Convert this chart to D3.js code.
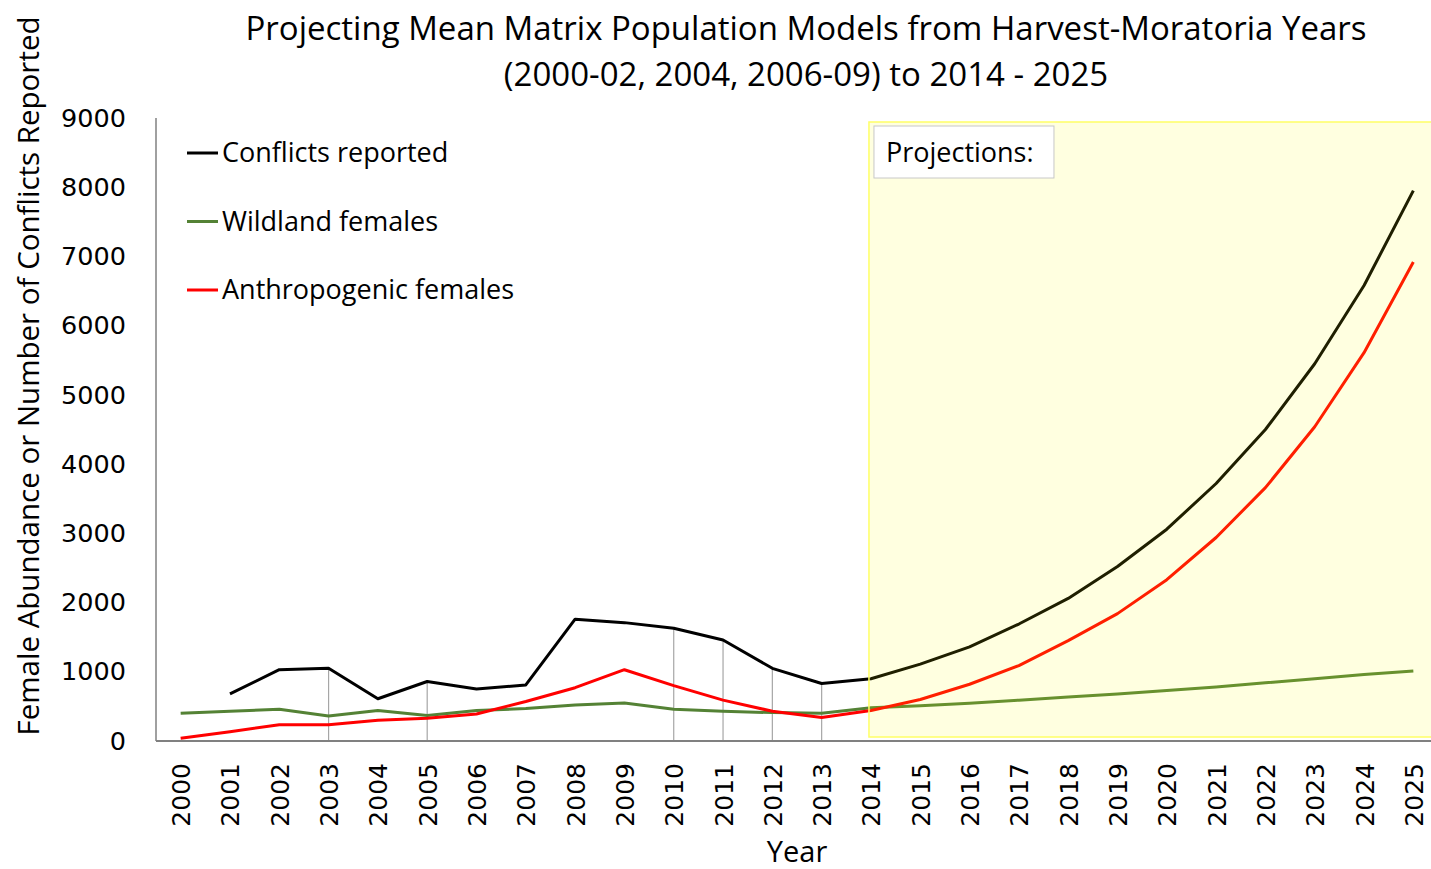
<!DOCTYPE html>
<html><head><meta charset="utf-8">
<script src="https://cdn.jsdelivr.net/npm/d3@7"></script>
<style>body{margin:0;background:#fff}svg{display:block}</style>
</head><body>
<svg id="c" width="1431" height="869"></svg>
<script>
const years = d3.range(2000, 2026).map(String);
const conflicts = [null,680,1030,1050,610,860,750,810,1760,1710,1630,1460,1050,830,900,1110,1360,1690,2060,2520,3060,3720,4500,5450,6580,7950];
const wildland = [400,430,460,360,440,370,440,470,520,550,460,430,410,400,480,510,545,590,635,680,730,780,840,900,960,1010];
const anthropogenic = [40,135,235,235,300,330,390,570,770,1030,800,590,430,340,440,600,820,1090,1450,1840,2330,2940,3660,4540,5610,6920];
const yTicks = [0,1000,2000,3000,4000,5000,6000,7000,8000,9000];
const dropYears = ["2003","2005","2010","2011","2012","2013"];
const projectionStart = "2014";
const series = [
  {name:"Conflicts reported", values:conflicts, color:"#000000"},
  {name:"Wildland females", values:wildland, color:"#548235"},
  {name:"Anthropogenic females", values:anthropogenic, color:"#ff0000"}
];
const titleLines = ["Projecting Mean Matrix Population Models from Harvest-Moratoria Years","(2000-02, 2004, 2006-09) to 2014 - 2025"];

const svg = d3.select("#c");
const L = 156, R = 1438, T = 118, B = 741;
const x = d3.scalePoint().domain(years).range([L, R]).padding(0.5);
const y = d3.scaleLinear().domain([0, 9000]).range([B, T]);
const titleFont = "'Open Sans', sans-serif";

// title
svg.selectAll("text.title").data(titleLines).join("text")
  .attr("x", 806).attr("y", (d,i)=>40+i*46)
  .attr("text-anchor","middle").attr("font-family",titleFont).attr("font-size",33)
  .attr("fill","#000").text(d=>d);

// drop lines
svg.selectAll("line.drop").data(dropYears).join("line")
  .attr("x1", d=>x(d)).attr("x2", d=>x(d))
  .attr("y1", d=>y(conflicts[years.indexOf(d)])).attr("y2", B)
  .attr("stroke","#a6a6a6").attr("stroke-width",1.2);

// lines
const line = d3.line().defined(d=>d.v!=null).x(d=>x(d.yr)).y(d=>y(d.v));
series.forEach(s=>{
  svg.append("path")
    .datum(years.map((yr,i)=>({yr, v:s.values[i]})))
    .attr("d", line).attr("fill","none").attr("stroke", s.color)
    .attr("stroke-width",3).attr("stroke-linejoin","round");
});

// projection region
const px = x(projectionStart) - 2;
svg.append("rect").attr("x", px).attr("y", 122).attr("width", 1431-px+5).attr("height", 737-122)
  .attr("fill","#ffff00").attr("fill-opacity",0.12).attr("stroke","#ffff66").attr("stroke-width",1.5);
svg.append("rect").attr("x", px+5).attr("y", 126).attr("width", 180).attr("height", 52)
  .attr("fill","#fff").attr("stroke","#c8c8c8").attr("stroke-width",1);
svg.append("text").attr("x", px+17).attr("y", 162).attr("font-family",titleFont)
  .attr("font-size",27).attr("fill","#000").text("Projections:");

// axes
const yAxis = d3.axisLeft(y).tickValues(yTicks).tickSize(0).tickPadding(30).tickFormat(d3.format("d"));
const gy = svg.append("g").attr("transform",`translate(${L},0)`).call(yAxis);
gy.select(".domain").attr("stroke","#808080").attr("stroke-width",1.5).attr("d",`M0,${T}V${B}`);
gy.selectAll("text").attr("font-family","'DejaVu Sans', sans-serif").attr("font-size",25.5).attr("fill","#000");

const xAxis = d3.axisBottom(x).tickSize(0).tickPadding(0);
const gx = svg.append("g").attr("transform",`translate(0,${B})`).call(xAxis);
gx.select(".domain").attr("stroke","#808080").attr("stroke-width",2).attr("d",`M${L},0H1431`);
gx.selectAll("text").attr("font-family","'DejaVu Sans', sans-serif").attr("font-size",25).attr("fill","#000")
  .attr("text-anchor","end").attr("dy",null)
  .attr("transform","translate(9,22) rotate(-90)").attr("x",0).attr("y",0);

// axis titles
svg.append("text").attr("x",797).attr("y",862).attr("text-anchor","middle")
  .attr("font-family",titleFont).attr("font-size",29).attr("fill","#000").text("Year");
svg.append("text").attr("transform","translate(39,376) rotate(-90)").attr("text-anchor","middle")
  .attr("font-family",titleFont).attr("font-size",29.5).attr("fill","#000")
  .text("Female Abundance or Number of Conflicts Reported");

// legend
series.forEach((s,i)=>{
  const ly = 153 + i*68.5;
  svg.append("line").attr("x1",187).attr("x2",218).attr("y1",ly).attr("y2",ly)
    .attr("stroke",s.color).attr("stroke-width",3);
  svg.append("text").attr("x",222).attr("y",ly+9).attr("font-family",titleFont)
    .attr("font-size",27).attr("fill","#000").text(s.name);
});
</script>
</body></html>
